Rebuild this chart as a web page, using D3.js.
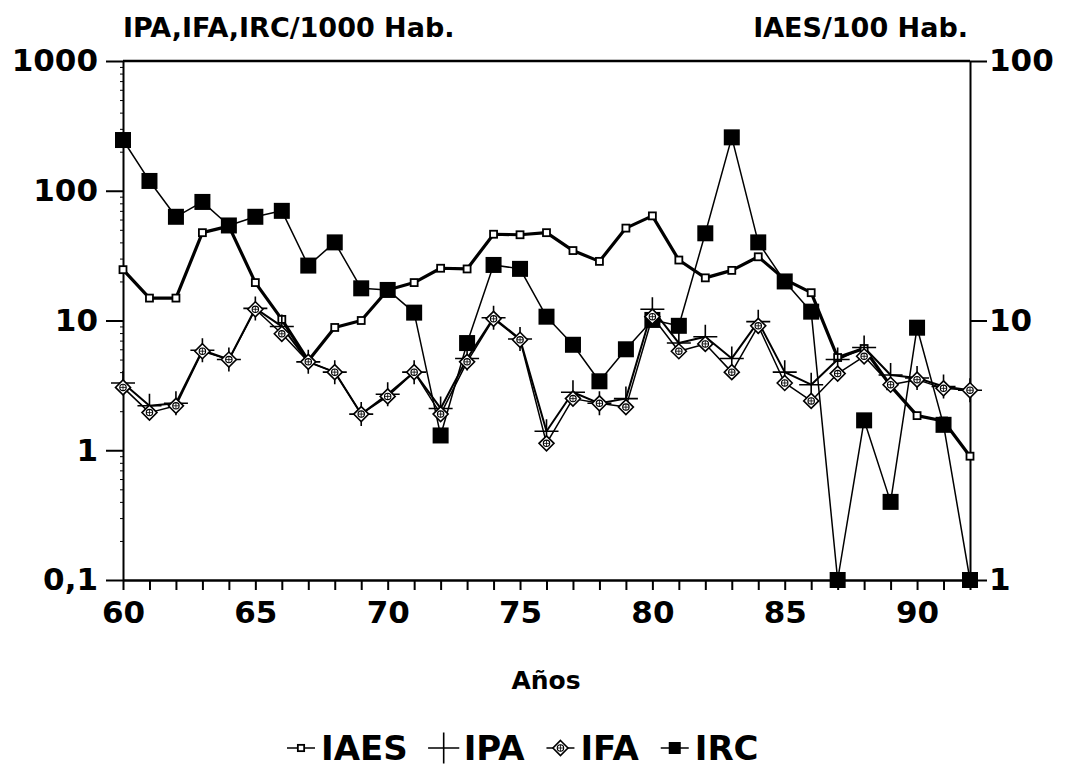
<!DOCTYPE html>
<html>
<head>
<meta charset="utf-8">
<script src="https://cdn.jsdelivr.net/npm/d3@7"></script>
<style>
  html, body { margin: 0; padding: 0; background: #fff; }
  svg { display: block; }
  text { font-family: "DejaVu Sans", sans-serif; font-weight: bold; fill: #000; }
</style>
</head>
<body>
<svg id="chart" width="1065" height="772"></svg>
<script>
// Years (19xx) on the horizontal axis
const years = [60,61,62,63,64,65,66,67,68,69,70,71,72,73,74,75,76,77,78,79,80,81,82,83,84,85,86,87,88,89,90,91,92];

// IAES per 100 inhabitants (right axis)
const iaes = [15.7,12.2,12.2,21.8,23.1,14.0,10.1,7.0,9.4,10.0,13.1,14.0,15.9,15.8,21.5,21.4,21.8,18.6,16.9,22.7,25.3,17.1,14.6,15.6,17.6,14.4,12.8,7.2,7.8,5.6,4.3,4.1,3.0];
// IPA, IFA, IRC per 1000 inhabitants (left axis)
const ipa = [3.3,2.2,2.3,5.9,5.0,12.4,9.0,4.8,4.0,1.9,2.7,4.0,2.1,5.1,10.5,7.2,1.4,2.8,2.3,2.5,12.2,6.7,7.5,5.1,9.8,4.0,3.2,5.0,6.2,3.8,3.6,3.1,2.9];
const ifa = [3.05,1.95,2.2,5.8,5.0,12.2,7.9,4.8,4.0,1.9,2.6,4.0,1.9,4.8,10.3,7.1,1.13,2.5,2.3,2.15,10.7,5.8,6.6,4.0,9.1,3.3,2.4,3.9,5.3,3.2,3.5,3.0,2.9];
const irc = [246,119,63,82,54,63,70,26.5,40,17.7,17.2,11.5,1.3,6.7,26.8,25,10.7,6.5,3.4,6.0,10.1,9.1,47,258,40,20,11.7,0.1,1.7,0.4,8.8,1.57,0.1];

// Tick values
const leftTicks = [0.1, 1, 10, 100, 1000];
const rightTicks = [1, 10, 100];
const xLabelYears = [60, 65, 70, 75, 80, 85, 90];

// Text
const leftTitle = "IPA,IFA,IRC/1000 Hab.";
const rightTitle = "IAES/100 Hab.";
const xTitle = "Años";
const seriesNames = ["IAES", "IPA", "IFA", "IRC"];

const svg = d3.select("#chart");
const plot = { left: 123, right: 970, top: 61, bottom: 580 };

const x = d3.scaleLinear().domain([60, 92]).range([plot.left, plot.right]);
const yL = d3.scaleLog().domain([0.1, 1000]).range([plot.bottom, plot.top]);
const yR = d3.scaleLog().domain([1, 100]).range([plot.bottom, plot.top]);

const esFormat = d3.formatLocale({ decimal: ",", thousands: "", grouping: [3], currency: ["", ""] }).format("~g");

// Top frame line
svg.append("line")
  .attr("x1", plot.left).attr("x2", plot.right)
  .attr("y1", plot.top).attr("y2", plot.top)
  .attr("stroke", "#000").attr("stroke-width", 2.5);

// Left axis: decades labelled, minor log ticks
const minorLeft = [];
[0.1, 1, 10, 100].forEach(d => { for (let k = 2; k <= 9; k++) minorLeft.push(d * k); });

const gLeftMinor = svg.append("g").attr("transform", `translate(${plot.left},0)`)
  .call(d3.axisLeft(yL).tickValues(minorLeft).tickSize(3).tickFormat(""));
gLeftMinor.select(".domain").remove();

const gLeft = svg.append("g").attr("transform", `translate(${plot.left},0)`)
  .call(d3.axisLeft(yL).tickValues(leftTicks).tickSize(17).tickSizeOuter(0).tickPadding(8).tickFormat(esFormat));

// Right axis
const gRight = svg.append("g").attr("transform", `translate(${plot.right},0)`)
  .call(d3.axisRight(yR).tickValues(rightTicks).tickSize(17).tickSizeOuter(0).tickPadding(2).tickFormat(esFormat));

// Bottom axis, one tick per year
const gBottom = svg.append("g").attr("transform", `translate(0,${plot.bottom})`)
  .call(d3.axisBottom(x).tickValues(years).tickSize(10).tickSizeOuter(0).tickPadding(10)
    .tickFormat(d => xLabelYears.includes(d) ? d : ""));

[gLeft, gRight, gBottom, gLeftMinor].forEach(g => {
  g.selectAll("path.domain").attr("stroke", "#000").attr("stroke-width", 2);
  g.selectAll(".tick line").attr("stroke", "#000").attr("stroke-width", 2);
  g.selectAll(".tick text").style("font-size", "31px").style("font-family", "DejaVu Sans").style("font-weight", "bold");
});
gLeftMinor.selectAll(".tick line").attr("stroke-width", 1);
gBottom.select("path.domain").attr("stroke-width", 2.5);
gBottom.selectAll(".tick text").attr("dy", "0.75em");

// Axis titles
svg.append("text").attr("x", plot.left).attr("y", 37).style("font-size", "27px").text(leftTitle);
svg.append("text").attr("x", plot.right - 2).attr("y", 37).attr("text-anchor", "end").style("font-size", "27px").text(rightTitle);
svg.append("text").attr("x", 546).attr("y", 689).attr("text-anchor", "middle").style("font-size", "25px").text(xTitle);

// Marker drawers (k scales the marker size)
function markSmallSquare(g, cx, cy, k = 1) {
  const h = 3.5 * k;
  g.append("rect").attr("x", cx - h).attr("y", cy - h).attr("width", 2 * h).attr("height", 2 * h)
    .attr("fill", "#fff").attr("stroke", "#000").attr("stroke-width", 1.8);
}
function markPlus(g, cx, cy, k = 1) {
  const h = 12 * k;
  g.append("path").attr("d", `M${cx - h},${cy}H${cx + h}M${cx},${cy - h}V${cy + h}`)
    .attr("stroke", "#000").attr("stroke-width", 1.6).attr("fill", "none");
}
function markDiamond(g, cx, cy, k = 1) {
  const r = 7.5 * k, c = 3.2 * k;
  g.append("path").attr("d", `M${cx},${cy - r}L${cx + r},${cy}L${cx},${cy + r}L${cx - r},${cy}Z`)
    .attr("fill", "#fff").attr("stroke", "#000").attr("stroke-width", 1.6);
  g.append("circle").attr("cx", cx).attr("cy", cy).attr("r", c)
    .attr("fill", "none").attr("stroke", "#000").attr("stroke-width", 1.1);
  g.append("path").attr("d", `M${cx - c},${cy}H${cx + c}M${cx},${cy - c}V${cy + c}`)
    .attr("stroke", "#000").attr("stroke-width", 0.8);
}
function markBigSquare(g, cx, cy, k = 1) {
  const h = 8 * k;
  g.append("rect").attr("x", cx - h).attr("y", cy - h).attr("width", 2 * h).attr("height", 2 * h).attr("fill", "#000");
}

const series = [
  { name: "IAES", values: iaes, y: yR, width: 3.2, marker: markSmallSquare },
  { name: "IRC",  values: irc,  y: yL, width: 1.5, marker: markBigSquare },
  { name: "IPA",  values: ipa,  y: yL, width: 2.0, marker: markPlus },
  { name: "IFA",  values: ifa,  y: yL, width: 1.5, marker: markDiamond }
];

series.forEach(s => {
  const line = d3.line().x((d, i) => x(years[i])).y(d => s.y(d));
  svg.append("path").datum(s.values).attr("d", line)
    .attr("fill", "none").attr("stroke", "#000").attr("stroke-width", s.width).attr("stroke-linejoin", "round");
});
series.forEach(s => {
  const g = svg.append("g").attr("class", "marks-" + s.name);
  s.values.forEach((v, i) => s.marker(g, x(years[i]), s.y(v)));
});

// Legend
const legendMarkers = { IAES: markSmallSquare, IPA: markPlus, IFA: markDiamond, IRC: markBigSquare };
const legendScale = { IAES: 0.9, IPA: 1.3, IFA: 1.0, IRC: 0.75 };
const legendLine = { IAES: true, IPA: false, IFA: true, IRC: true };
const legend = svg.append("g");
let lx = 287;
const ly = 748;
seriesNames.forEach(name => {
  const g = legend.append("g");
  const sw = 28;
  if (legendLine[name]) {
    g.append("line").attr("x1", lx).attr("x2", lx + sw).attr("y1", ly).attr("y2", ly)
      .attr("stroke", "#000").attr("stroke-width", 1.5);
  }
  legendMarkers[name](g, lx + sw / 2, ly, legendScale[name]);
  const t = g.append("text").attr("x", lx + sw + 6).attr("y", ly + 12).style("font-size", "34px").text(name);
  lx += sw + 6 + t.node().getComputedTextLength() + 22;
});
</script>
</body>
</html>
